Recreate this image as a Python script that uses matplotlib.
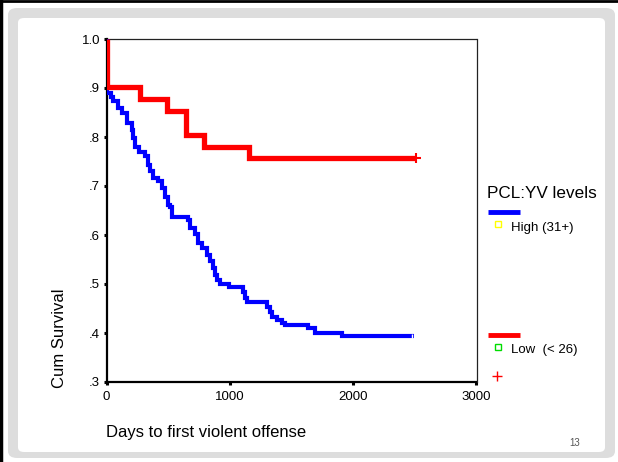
import numpy as np
import matplotlib
matplotlib.use('Agg')
import matplotlib.pyplot as plt
from matplotlib.patches import FancyBboxPatch
from matplotlib.lines import Line2D

####### ================================================================
####### ------- Data ---------------------------------------------------
####### ================================================================
## High (31+) group: event days and cum survival after each step
high_days = [0, 3, 34, 55, 96, 123, 164, 204, 218, 231, 266, 312, 334, 353,
             380, 420, 447, 474, 501, 515, 535, 663, 677, 718, 744, 772, 813,
             839, 866, 880, 894, 920, 995, 1109, 1123, 1137, 1299, 1326, 1345,
             1380, 1421, 1447, 1636, 1690, 1907, 2490]
high_surv = [1.0, 0.890, 0.881, 0.874, 0.859, 0.848, 0.828, 0.814, 0.797,
             0.780, 0.770, 0.761, 0.743, 0.731, 0.716, 0.711, 0.695, 0.678,
             0.661, 0.657, 0.637, 0.631, 0.614, 0.603, 0.583, 0.573, 0.559,
             0.546, 0.532, 0.518, 0.508, 0.500, 0.494, 0.484, 0.471, 0.464,
             0.454, 0.443, 0.433, 0.427, 0.420, 0.416, 0.410, 0.401, 0.394,
             0.394]

## Low (< 26) group
low_days = [0, 8, 272, 488, 645, 790, 1155, 2509]
low_surv = [1.0, 0.903, 0.877, 0.853, 0.805, 0.780, 0.757, 0.757]

## axis ticks and labels
x_ticks = [0, 1000, 2000, 3000]
y_ticks = [0.3, 0.4, 0.5, 0.6, 0.7, 0.8, 0.9, 1.0]
y_tick_labels = ['.3', '.4', '.5', '.6', '.7', '.8', '.9', '1.0']
legend_title = 'PCL:YV levels'
group_names = ['High (31+)', 'Low  (< 26)']

####### ================================================================
####### ------- Figure and slide background ----------------------------
####### ================================================================
W, H = 618, 462
plt.rcParams['font.family'] = ['Liberation Sans', 'DejaVu Sans']

fig = plt.figure(figsize=(W/100, H/100), dpi=100)
fig.patch.set_facecolor('white')

def fx(px):            ## pixel x -> figure fraction
    return px / W

def fy(py):            ## pixel y (from top) -> figure fraction
    return 1 - py / H

## grey slide frame and white inner panel
fig.patches.append(FancyBboxPatch((fx(8), fy(458)), fx(607), (450)/H,
                                  boxstyle='round,pad=0,rounding_size=0.015',
                                  transform=fig.transFigure, facecolor='#dddddd',
                                  edgecolor='none', zorder=-2))
fig.patches.append(FancyBboxPatch((fx(18), fy(452)), fx(587), (434)/H,
                                  boxstyle='round,pad=0,rounding_size=0.01',
                                  transform=fig.transFigure, facecolor='white',
                                  edgecolor='none', zorder=-1))
## black border on left and top
fig.lines.append(Line2D([fx(1.5), fx(1.5)], [0, 1], transform=fig.transFigure,
                        color='black', linewidth=2.5))
fig.lines.append(Line2D([0, 1], [fy(1), fy(1)], transform=fig.transFigure,
                        color='black', linewidth=2))

####### ================================================================
####### ------- Survival plot ------------------------------------------
####### ================================================================
ax = fig.add_axes([fx(106.5), fy(382), fx(370), 343/H])
ax.set_zorder(5)
ax.set_facecolor('white')

ax.step(high_days, high_surv, where='post', color='#0000ff', linewidth=3.0,
        solid_joinstyle='miter', solid_capstyle='butt', zorder=3)
ax.step(low_days, low_surv, where='post', color='#ff0000', linewidth=3.8,
        solid_joinstyle='miter', solid_capstyle='butt', zorder=4)

## censored marks at the end of each curve
ax.plot(high_days[-1] - 15, high_surv[-1], marker='|', color='white',
        markersize=3, markeredgewidth=1, zorder=5)
ax.plot(low_days[-1], low_surv[-1], marker='+', color='#ff0000',
        markersize=7, markeredgewidth=1.5, zorder=5)

ax.set_xlim(0, 3000)
ax.set_ylim(0.3, 1.0)
ax.set_xticks(x_ticks)
ax.set_yticks(y_ticks)
ax.set_yticklabels(y_tick_labels)
ax.tick_params(direction='out', length=2.2, width=2.2, labelsize=9.5,
               colors='black', pad=2.5)
ax.tick_params(axis='x', pad=4)

for side in ['left', 'bottom']:
    ax.spines[side].set_linewidth(1.6)
for side in ['top', 'right']:
    ax.spines[side].set_linewidth(0.9)
    ax.spines[side].set_color('#222222')

## axis titles (placed like the SPSS output)
fig.text(fx(60), fy(338), 'Cum Survival', rotation=90, fontsize=12,
         ha='center', va='center')
fig.text(fx(106), fy(432), 'Days to first violent offense', fontsize=12,
         ha='left', va='center')

####### ================================================================
####### ------- Legend (drawn by hand) ---------------------------------
####### ================================================================
fig.text(fx(487), fy(193), legend_title, fontsize=12.3, ha='left', va='center')

fig.lines.append(Line2D([fx(488), fx(520)], [fy(212), fy(212)],
                        transform=fig.transFigure, color='#0000ff',
                        linewidth=3.5, solid_capstyle='butt'))
fig.lines.append(Line2D([fx(498)], [fy(224)], transform=fig.transFigure,
                        marker='s', markersize=4, markerfacecolor='none',
                        markeredgecolor='#ffff00', markeredgewidth=1, linestyle='none'))
fig.text(fx(511), fy(228), group_names[0], fontsize=9.5, ha='left', va='center')

fig.lines.append(Line2D([fx(488), fx(520)], [fy(335), fy(335)],
                        transform=fig.transFigure, color='#ff0000',
                        linewidth=3.5, solid_capstyle='butt'))
fig.lines.append(Line2D([fx(498)], [fy(347)], transform=fig.transFigure,
                        marker='s', markersize=4, markerfacecolor='none',
                        markeredgecolor='#00dd00', markeredgewidth=1, linestyle='none'))
fig.text(fx(511), fy(350), group_names[1], fontsize=9.5, ha='left', va='center')

fig.lines.append(Line2D([fx(497)], [fy(376)], transform=fig.transFigure,
                        marker='+', markersize=7, markeredgecolor='#ff0000',
                        markeredgewidth=1, linestyle='none'))

## slide number
fig.text(fx(575), fy(443), '13', fontsize=7, color='#555555',
         ha='center', va='center')

plt.savefig('out.png', dpi=100, facecolor=fig.get_facecolor())
